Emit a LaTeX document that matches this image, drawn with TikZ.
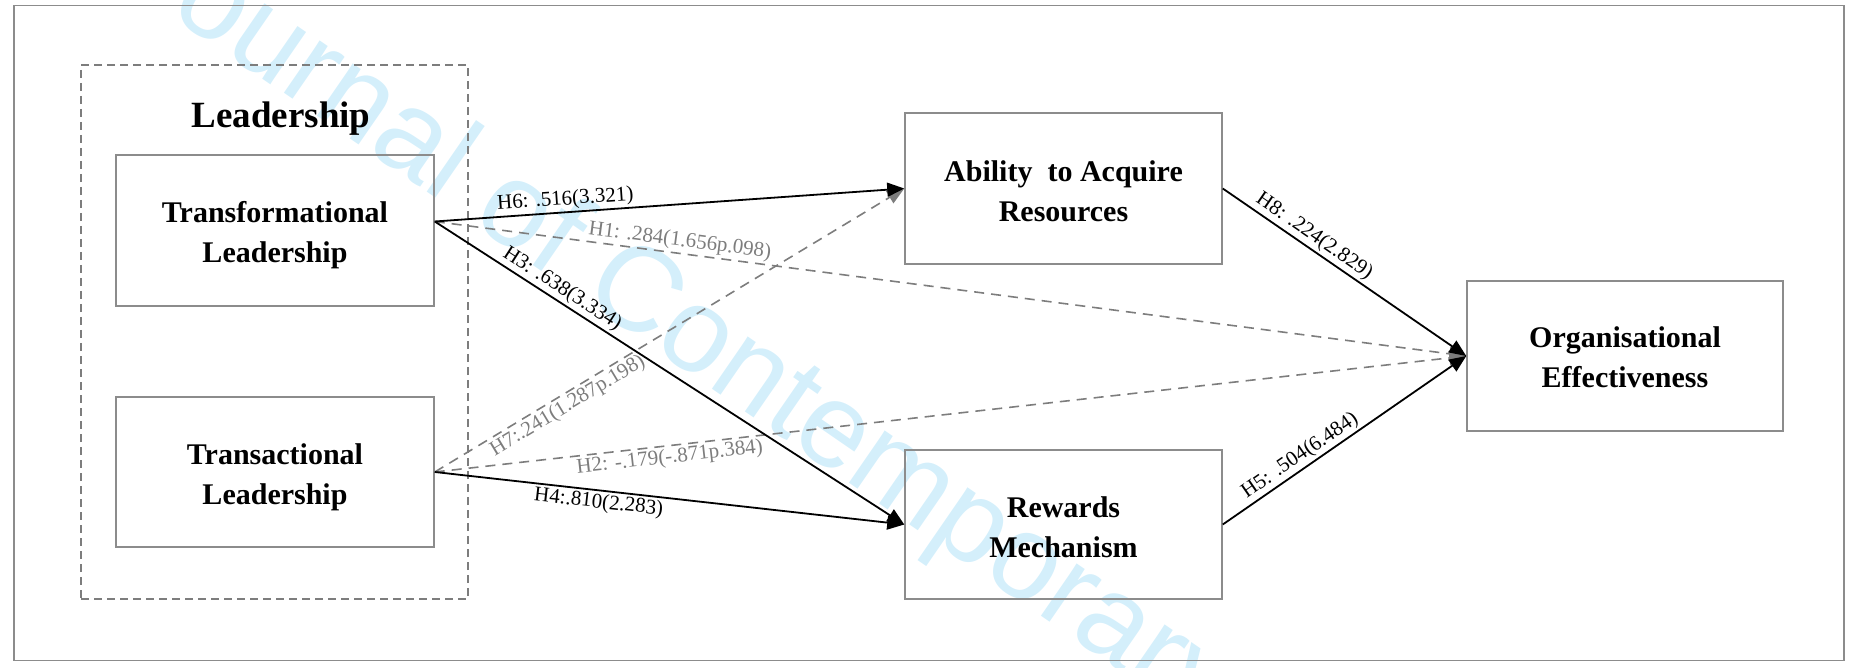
\documentclass[tikz,border=0pt]{standalone}
\usepackage{fontspec}
\setmainfont{Liberation Serif}
\newfontfamily\wmfont{Liberation Sans}
\usetikzlibrary{arrows.meta}
\definecolor{boxgray}{RGB}{140,140,140}
\definecolor{dashgray}{RGB}{125,125,125}
\definecolor{wmblue}{RGB}{212,239,251}
\begin{document}
\begin{tikzpicture}[x=1pt,y=-1pt,
  box/.style={draw=boxgray, line width=1.5pt, inner sep=0pt},
  boxtext/.style={align=center, inner sep=0pt, font=\fontsize{30}{40}\selectfont\bfseries},
  conn/.style={line width=1.8pt, -{Triangle[length=17pt,width=14pt]}},
  dconn/.style={draw=dashgray, line width=1.6pt, dash pattern=on 10pt off 7pt,
    -{Triangle[length=17pt,width=14pt,fill=dashgray]}},
  lab/.style={font=\fontsize{21}{21}\selectfont, sloped, inner sep=2pt},
  glab/.style={lab, text=dashgray},
  wm/.style={font=\wmfont\fontsize{120}{120}\selectfont, text=wmblue, inner sep=0pt}
]
\useasboundingbox (0,0) rectangle (1854,668);
\begin{scope}
  \clip (0,0) rectangle (1854,668);
  \node[wm, rotate=-34.6, anchor=base west] (wmark) at (118,-21) {Journal of Contemporary};
\end{scope}

\node[draw=boxgray, line width=1.8pt, minimum width=1830, minimum height=655] (frame) at (929,333) {};
\node[draw=dashgray, dash pattern=on 8pt off 5pt, line width=1.5pt, minimum width=387, minimum height=534] (group) at (274.5,332) {};
\node[font=\fontsize{37}{37}\selectfont\bfseries] (gtitle) at (281,119) {Leadership};

\node[box, minimum width=318, minimum height=151] (TF) at (275,230.5) {};
\node[box, minimum width=318, minimum height=150] (TA) at (275,472) {};
\node[box, minimum width=317, minimum height=151] (AB) at (1063.5,188.5) {};
\node[box, minimum width=317, minimum height=149] (RW) at (1063.5,524.5) {};
\node[box, minimum width=316, minimum height=150] (OE) at (1625,356) {};

\node[boxtext] (TFt) at ([yshift=-5pt]TF.center) {Transformational\\Leadership};
\node[boxtext] (TAt) at ([yshift=-5pt]TA.center) {Transactional\\Leadership};
\node[boxtext] (ABt) at ([yshift=-3pt]AB.center) {Ability~~to Acquire\\Resources};
\node[boxtext] (RWt) at ([yshift=-3pt]RW.center) {Rewards\\Mechanism};
\node[boxtext] (OEt) at ([yshift=-1pt]OE.center) {Organisational\\Effectiveness};

\coordinate (tfo) at ([yshift=9pt]TF.east);

\draw[dconn] (tfo) -- node[glab, pos=.236, above]{H1: .284(1.656p.098)} (OE.west);
\draw[dconn] (TA.east) -- node[glab, pos=.2265, below]{H2: -.179(-.871p.384)} (OE.west);
\draw[dconn] (TA.east) -- node[glab, pos=.27, below]{H7:.241(1.287p.198)} (AB.west);
\draw[conn] (tfo) -- node[lab, pos=.28, above]{H6: .516(3.321)} (AB.west);
\draw[conn] (tfo) -- node[lab, pos=.257, above]{H3: .638(3.334)} (RW.west);
\draw[conn] (TA.east) -- node[lab, pos=.352, below]{H4:.810(2.283)} (RW.west);
\draw[conn] (AB.east) -- node[lab, pos=.347, above]{H8: .224(2.829)} (OE.west);
\draw[conn] (RW.east) -- node[lab, pos=.347, above]{H5: .504(6.484)} (OE.west);
\end{tikzpicture}
\end{document}
